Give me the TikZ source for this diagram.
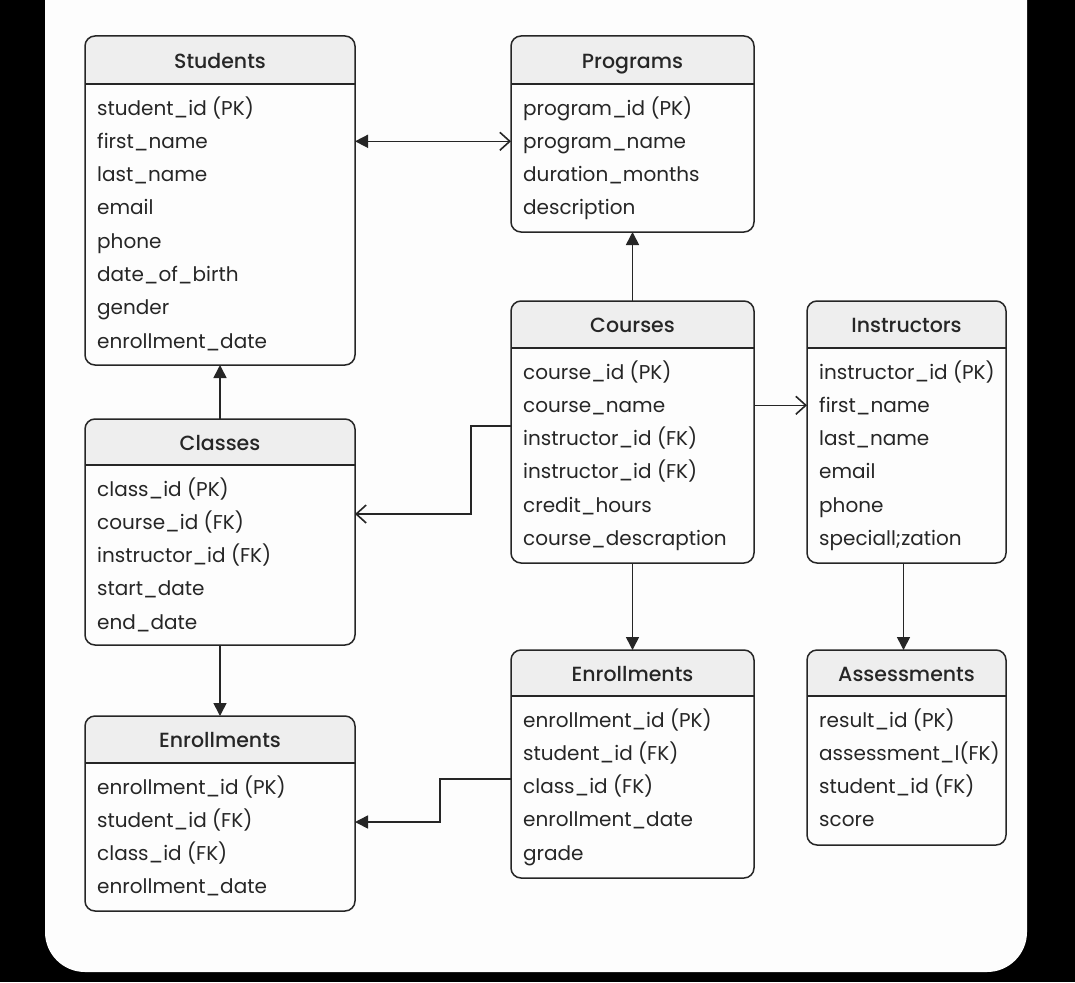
\documentclass[tikz,border=0pt]{standalone}
\usepackage{fontspec}
\setmainfont{Poppins}
\newfontfamily\titlefont{Poppins Medium}
\usetikzlibrary{arrows.meta}
\definecolor{ink}{HTML}{262626}
\definecolor{hdr}{HTML}{EEEEEE}
\definecolor{card}{HTML}{FDFDFD}
\tikzset{
  entbox/.style={draw=ink, line width=1.5pt, rounded corners=10pt,
    inner sep=0pt, outer sep=0pt, anchor=north west},
  ttl/.style={inner sep=0pt, text height=14pt, text depth=0pt,
    font=\fontsize{20.5}{24}\titlefont, text=ink},
  fld/.style={inner sep=0pt, anchor=west, text height=14pt, text depth=0pt,
    font=\fontsize{20}{24}\selectfont, text=ink},
  link/.style={draw=ink, line width=1.6pt},
  solidtip/.tip={Triangle[length=13pt,width=13pt]},
  opentip/.tip={Straight Barb[length=10pt,width=18pt,line width=1.6pt]},
  solidhead/.style={-solidtip},
  openhead/.style={-opentip}
}
% \entity{name}{left}{top}{right}{bottom}{header rule y}{title}{fields}
\newcommand\entity[8]{%
  \begin{scope}
    \clip (#2,#3) rectangle (#4,#6);
    \fill[hdr, rounded corners=10pt] (#2,#3) rectangle (#4,#5);
  \end{scope}
  \draw[ink, line width=1.5pt] (#2,#6) -- (#4,#6);
  \node[entbox, minimum width={#4-#2}, minimum height={#5-#3}] (#1) at (#2,#3) {};
  \node[ttl] (#1-t) at ({(#2+#4)/2},{(#3+#6)/2+1}) {#7};
  \foreach \f [count=\i] in {#8}
    \node[fld] (#1-\i) at ({#2+12},{#6+24+(\i-1)*33.3}) {\f};
}
\begin{document}
\begin{tikzpicture}[x=1pt, y=-1pt]
\useasboundingbox (0,0) rectangle (1075,982);
\begin{scope}
  \clip (0,0) rectangle (1075,982);
  \fill[black] (0,0) rectangle (1075,982);
  \fill[card, rounded corners=40pt] (45,-60) rectangle (1027,972);
\end{scope}

\entity{stu}{85}{36}{355}{365}{84}{Students}
  {student\_id (PK), first\_name, last\_name, email, phone,
   date\_of\_birth, gender, enrollment\_date}
\entity{prog}{511}{36}{754}{232}{84}{Programs}
  {program\_id (PK), program\_name, duration\_months, description}
\entity{cou}{511}{301}{754}{563}{348}{Courses}
  {course\_id (PK), course\_name, instructor\_id (FK), instructor\_id (FK),
   credit\_hours, course\_descraption}
\entity{ins}{807}{301}{1006}{563}{348}{Instructors}
  {instructor\_id (PK), first\_name, last\_name, email, phone, speciall;zation}
\entity{cls}{85}{419}{355}{645}{465}{Classes}
  {class\_id (PK), course\_id (FK), instructor\_id (FK), start\_date, end\_date}
\entity{enm}{511}{650}{754}{878}{696}{Enrollments}
  {enrollment\_id (PK), student\_id (FK), class\_id (FK), enrollment\_date, grade}
\entity{ass}{807}{650}{1006}{845}{696}{Assessments}
  {result\_id (PK), assessment\_l(FK), student\_id (FK), score}
\entity{enl}{85}{716}{355}{911}{763}{Enrollments}
  {enrollment\_id (PK), student\_id (FK), class\_id (FK), enrollment\_date}

% relationships
\draw[link, solidtip-opentip] (stu.east |- stu-2) -- (prog.west |- stu-2);
\draw[link, solidhead] (cou.north) -- (prog.south);
\draw[link, solidhead] (cls.north) -- (stu.south);
\draw[link, openhead] (cou.east |- cou-2) -- (ins.west |- cou-2);
\draw[link, openhead] (cou.west |- 0,426) -- ++(-40,0) |- (cls.east |- 0,514);
\draw[link, solidhead] (cou.south) -- (enm.north);
\draw[link, solidhead] ([xshift=-3pt]ins.south) -- ([xshift=-3pt]ass.north);
\draw[link, solidhead] (cls.south) -- (enl.north);
\draw[link, solidhead] (enm.west |- 0,779) -- ++(-71,0) |- (enl.east |- 0,822);
\end{tikzpicture}
\end{document}
